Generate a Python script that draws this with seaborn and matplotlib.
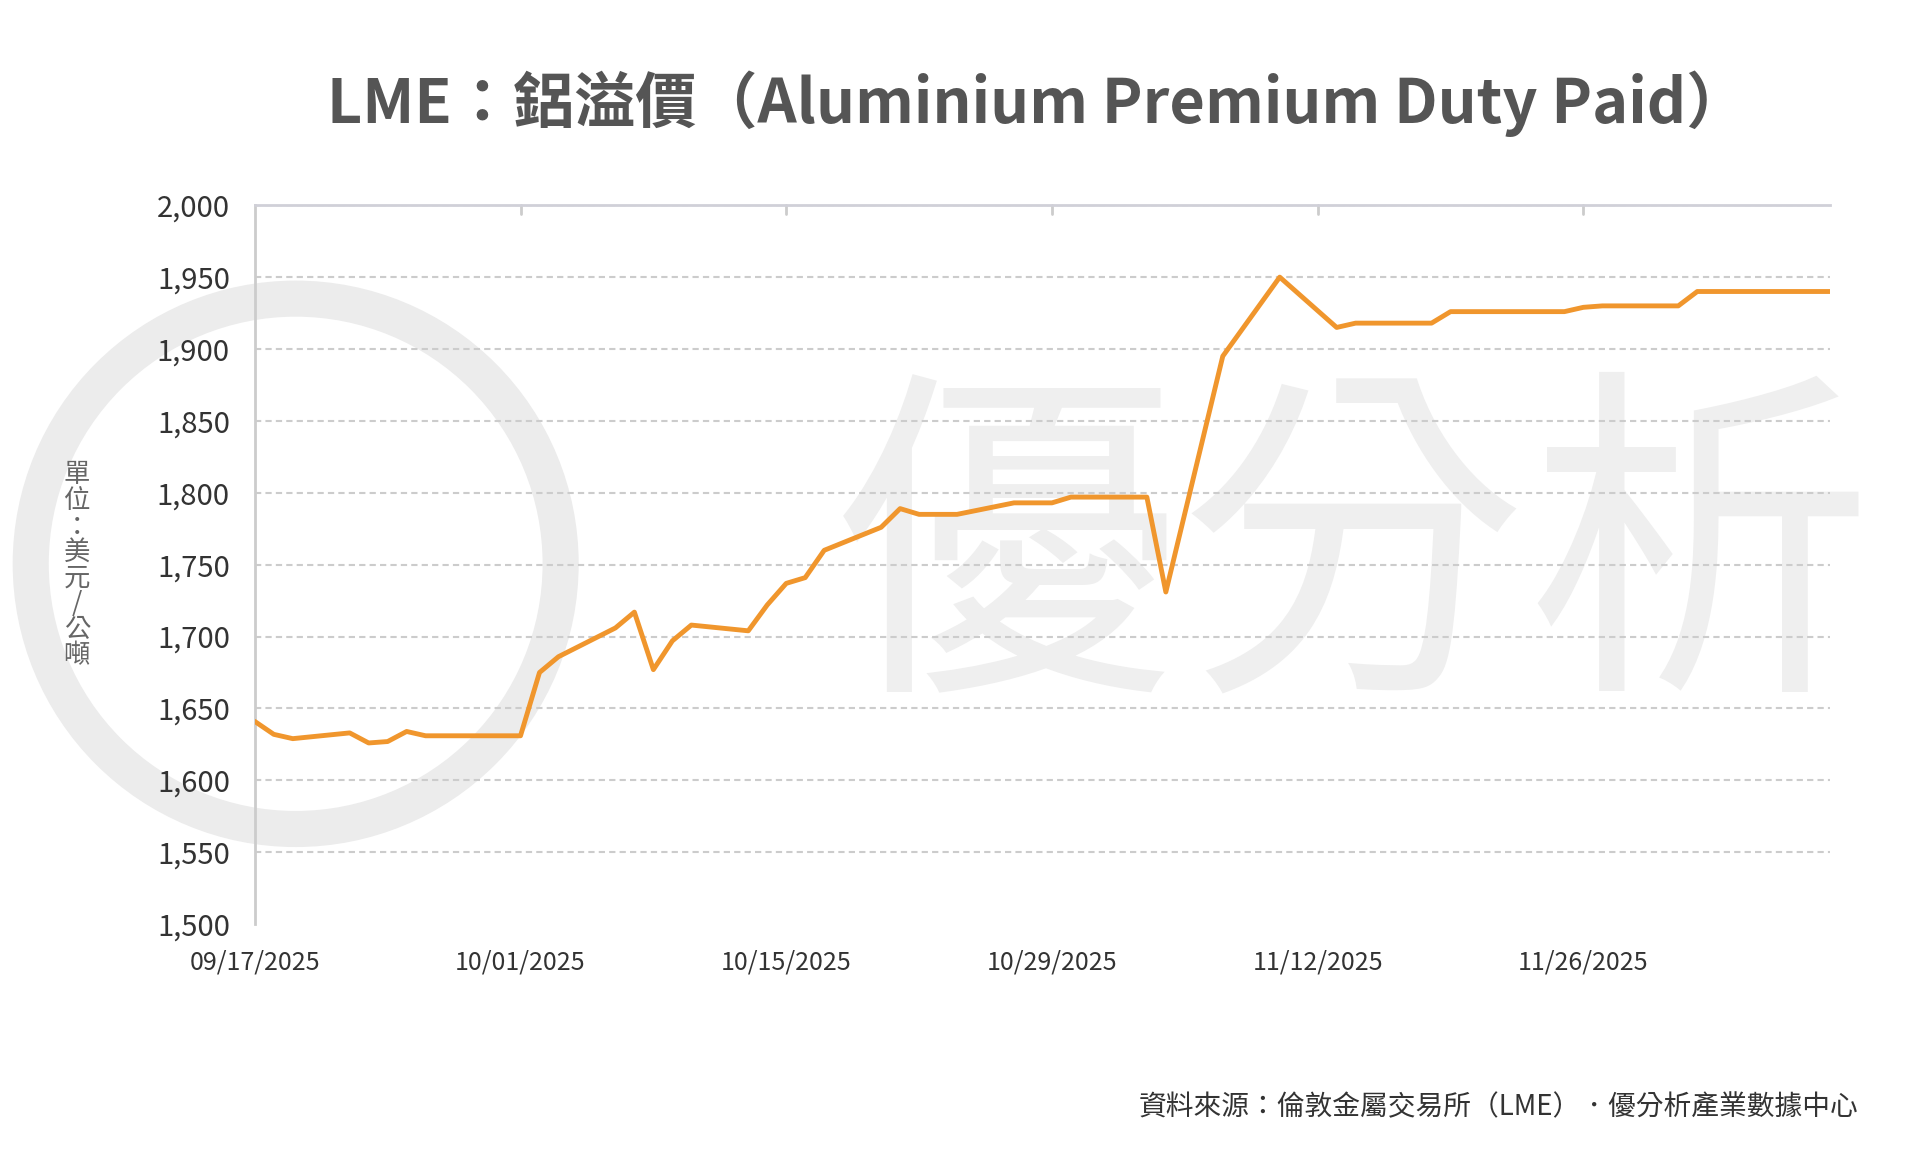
import matplotlib
matplotlib.use("Agg")
import matplotlib.pyplot as plt
import matplotlib.dates as mdates
from matplotlib.patches import Ellipse
import seaborn as sns
import pandas as pd

dates = ["2025-09-17","2025-09-18","2025-09-19","2025-09-22","2025-09-23","2025-09-24","2025-09-25","2025-09-26",
         "2025-10-01","2025-10-02","2025-10-03","2025-10-06","2025-10-07","2025-10-08","2025-10-09","2025-10-10",
         "2025-10-13","2025-10-14","2025-10-15","2025-10-16","2025-10-17","2025-10-20","2025-10-21","2025-10-22",
         "2025-10-24","2025-10-27","2025-10-29","2025-10-30","2025-11-03","2025-11-04","2025-11-07","2025-11-10",
         "2025-11-13","2025-11-14","2025-11-18","2025-11-19","2025-11-25","2025-11-26","2025-11-27","2025-12-01",
         "2025-12-02","2025-12-09"]
values = [1641,1632,1629,1633,1626,1627,1634,1631,
          1631,1675,1686,1706,1717,1677,1697,1708,
          1704,1722,1737,1741,1760,1776,1789,1785,
          1785,1793,1793,1797,1797,1731,1895,1950,
          1915,1918,1918,1926,1926,1929,1930,1930,
          1940,1940]
xticks = ["2025-09-17","2025-10-01","2025-10-15","2025-10-29","2025-11-12","2025-11-26"]
yticks = list(range(1500, 2001, 50))

sns.set_theme(style="white")
plt.rcParams['font.family'] = ['Noto Sans CJK TC', 'DejaVu Sans']

df = pd.DataFrame({"date": pd.to_datetime(dates), "value": values})

fig = plt.figure(figsize=(19.2, 11.53), dpi=100)
bg = fig.add_axes([0, 0, 1, 1], zorder=0)
bg.set_axis_off(); bg.set_xlim(0, 1); bg.set_ylim(0, 1)
bg.add_patch(Ellipse((0.154, 0.511), 2*0.138, 2*0.230, fill=False, ec="#ececec", lw=26))
bg.text(0.705, 0.51, "優分析", fontsize=250, color="#efefef", ha="center", va="center")

ax = fig.add_axes([0.1327, 0.1985, 0.8205, 0.6235], zorder=1)
ax.set_facecolor("none")
for y in yticks[1:]:
    ax.axhline(y, color="#cccccc", ls=(0, (3, 2)), lw=1.5, zorder=1)
sns.lineplot(data=df, x="date", y="value", ax=ax, color="#F0962D", lw=3.5, zorder=3)
ax.set_ylim(1500, 2000)
ax.set_xlim(pd.Timestamp("2025-09-17"), pd.Timestamp("2025-12-09"))
ax.set_yticks(yticks)
ax.set_yticklabels([f"{v:,}" for v in yticks], fontsize=21, color="#333333")
ax.set_xticks(pd.to_datetime(xticks))
ax.xaxis.set_major_formatter(mdates.DateFormatter("%m/%d/%Y"))
ax.tick_params(axis="x", labelsize=18, colors="#333333", pad=18, length=0)
ax.tick_params(axis="y", length=0, pad=18)
for t in pd.to_datetime(xticks)[1:]:
    ax.plot([t, t], [2000, 1994], color="#cccccc", lw=2, clip_on=False)
for s in ["right", "bottom"]:
    ax.spines[s].set_visible(False)
ax.spines["left"].set_color("#cccccc"); ax.spines["left"].set_linewidth(2)
ax.spines["top"].set_color("#d0d0d8"); ax.spines["top"].set_linewidth(2)
ax.set_xlabel(""); ax.set_ylabel("")

fig.text(0.54, 0.91, "LME：鋁溢價（Aluminium Premium Duty Paid）", fontsize=44,
         ha="center", va="center", color="#555555", fontweight="semibold")
fig.text(0.04, 0.51, "單\n位\n：\n美\n元\n/\n公\n噸", fontsize=19, color="#666666",
         ha="center", va="center", linespacing=0.95)
fig.text(0.968, 0.04, "資料來源：倫敦金屬交易所（LME）．優分析產業數據中心", fontsize=20,
         ha="right", va="center", color="#333333")
fig.savefig("out.png", dpi=100)
